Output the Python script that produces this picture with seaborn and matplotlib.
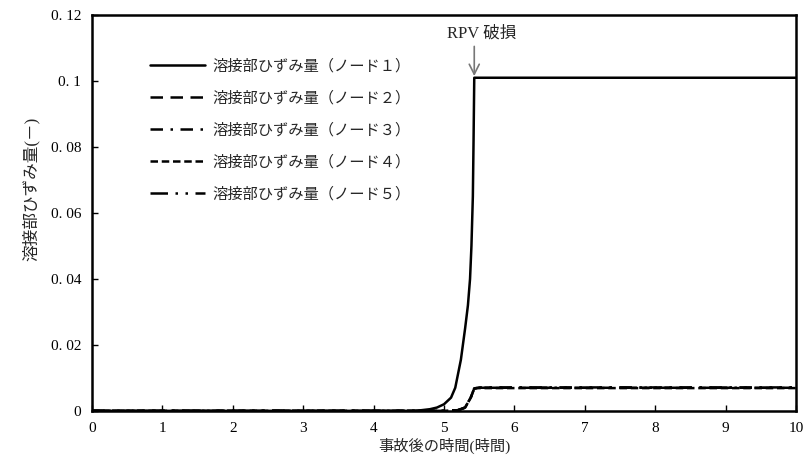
import numpy as np
import pandas as pd
import matplotlib
matplotlib.use("Agg")
import matplotlib.pyplot as plt
import seaborn as sns

# Data
time_node1 = [0.0, 4.6, 4.8, 4.9, 5.0, 5.1, 5.16, 5.24, 5.3, 5.34, 5.37, 5.39, 5.41, 5.42, 5.43, 10.0]
strain_node1 = [0.0, 0.0, 0.0005, 0.001, 0.002, 0.004, 0.007, 0.0155, 0.025, 0.032, 0.040, 0.050, 0.065, 0.082, 0.101, 0.101]

time_nodes = [0.0, 5.0, 5.2, 5.3, 5.38, 5.43, 5.5, 10.0]
strain_node2 = [0.0, 0.0, 0.0002, 0.001, 0.004, 0.0068, 0.0070, 0.0070]
strain_node3 = [0.0, 0.0, 0.0002, 0.001, 0.004, 0.0068, 0.0071, 0.0071]
strain_node4 = [0.0, 0.0, 0.0002, 0.001, 0.004, 0.0068, 0.0069, 0.0069]
strain_node5 = [0.0, 0.0, 0.0002, 0.001, 0.004, 0.0068, 0.0070, 0.0070]

labels = ["溶接部ひずみ量（ノード１）", "溶接部ひずみ量（ノード２）", "溶接部ひずみ量（ノード３）",
          "溶接部ひずみ量（ノード４）", "溶接部ひずみ量（ノード５）"]
y_ticks = [0, 0.02, 0.04, 0.06, 0.08, 0.1, 0.12]
y_tick_labels = ["0", "0. 02", "0. 04", "0. 06", "0. 08", "0. 1", "0. 12"]
x_ticks = list(range(0, 11))

sns.set_theme(style="ticks")
plt.rcParams["font.family"] = ["Liberation Serif", "Noto Sans CJK JP", "DejaVu Sans"]
plt.rcParams["font.size"] = 11

series = [
    (time_node1, strain_node1, "-"),
    (time_nodes, strain_node2, (0, (5, 3))),
    (time_nodes, strain_node3, (0, (5, 3, 1, 3))),
    (time_nodes, strain_node4, (0, (3, 1.5))),
    (time_nodes, strain_node5, (0, (7, 3, 1, 3, 1, 3))),
]

fig = plt.figure(figsize=(8.08, 4.57), dpi=100)
ax = fig.add_axes([0.114, 0.101, 0.871, 0.866])

for (t, s, ls), lab in zip(series, labels):
    sns.lineplot(x=t, y=s, ax=ax, color="black", linestyle=ls, linewidth=1.8,
                 label=lab, sort=False, estimator=None)

ax.set_xlim(0, 10)
ax.set_ylim(0, 0.12)
ax.set_xticks(x_ticks)
ax.set_xticklabels([str(v) for v in x_ticks])
ax.set_yticks(y_ticks)
ax.set_yticklabels(y_tick_labels)
ax.tick_params(direction="in", length=4, width=1, labelsize=11, colors="black", pad=8)
for sp in ax.spines.values():
    sp.set_linewidth(1.8)
    sp.set_color("black")

ax.set_xlabel("事故後の時間(時間)", fontsize=11, labelpad=2)
ax.set_ylabel("溶接部ひずみ量(－)", fontsize=12, labelpad=12)
ax.yaxis.set_label_coords(-0.075, 0.56)

# RPV failure marker
ax.annotate("", xy=(5.43, 0.1015), xytext=(5.43, 0.1105),
            arrowprops=dict(arrowstyle="->", color="#777777", lw=1.2,
                            shrinkA=0, shrinkB=0, mutation_scale=18))
ax.text(5.53, 0.1145, "RPV 破損", ha="center", va="center", fontsize=12)

leg = ax.legend(loc="upper left", bbox_to_anchor=(0.063, 0.925), frameon=False,
                handlelength=3.6, handletextpad=0.5, labelspacing=1.15, fontsize=11)

fig.savefig("out.png", dpi=100)
